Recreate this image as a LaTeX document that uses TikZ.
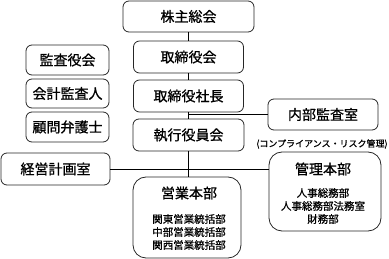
\documentclass[tikz,border=0pt]{standalone}
\usepackage{fontspec}
\setmainfont{Noto Sans CJK JP}[BoldFont={Noto Sans CJK JP}, BoldFeatures={FakeBold=0.9}]
\begin{document}
\begin{tikzpicture}[x=1pt,y=-1pt,
  box/.style={draw=black!85, line width=0.8pt, rounded corners=6pt, rectangle, inner sep=0pt, font=\fontsize{14}{16}\selectfont\bfseries},
  bigbox/.style={draw=black!85, line width=0.8pt, rounded corners=13pt, rectangle, inner sep=0pt},
  title/.style={inner sep=0pt, font=\fontsize{14}{16}\selectfont\bfseries},
  sub/.style={inner sep=0pt, font=\fontsize{10.5}{12}\selectfont\bfseries},
  note/.style={inner sep=0pt, font=\fontsize{9}{11}\selectfont\bfseries},
  conn/.style={draw=black, line width=0.8pt}]
\useasboundingbox (0,0) rectangle (389,259);
\node[box, minimum width=131pt, minimum height=31pt] (kabu) at (188.5,16.5) {株主総会};
\node[box, minimum width=110pt, minimum height=32pt] (tori) at (188.5,57) {取締役会};
\node[box, minimum width=110pt, minimum height=32pt] (shacho) at (188.5,96) {取締役社長};
\node[box, minimum width=111pt, minimum height=32pt] (shikko) at (188.5,135) {執行役員会};
\node[box, minimum width=83pt, minimum height=30pt] (kansa) at (67.5,60) {監査役会};
\node[box, minimum width=83pt, minimum height=29pt] (kaikei) at (67.5,93.5) {会計監査人};
\node[box, minimum width=83pt, minimum height=30pt] (komon) at (67.5,127) {顧問弁護士};
\node[box, minimum width=110pt, minimum height=31pt] (naibu) at (323,114.5) {内部監査室};
\node[note] (comp) at (322,144) {(コンプライアンス・リスク管理)};
\node[box, minimum width=109pt, minimum height=32pt] (keiei) at (55.5,169) {経営計画室};
\node[bigbox, minimum width=108pt, minimum height=81pt] (eigyo) at (187,217.5) {};
\node[title] (eigyoT) at (189,193) {営業本部};
\node[sub] (eigyo1) at (189,219) {関東営業統括部};
\node[sub] (eigyo2) at (189,232) {中部営業統括部};
\node[sub] (eigyo3) at (189,245) {関西営業統括部};
\node[bigbox, minimum width=112pt, minimum height=79pt] (kanri) at (325,191.5) {};
\node[title] (kanriT) at (323,169) {管理本部};
\node[sub] (kanri1) at (323,193) {人事総務部};
\node[sub] (kanri2) at (323,206) {人事総務部法務室};
\node[sub] (kanri3) at (323,219) {財務部};
\draw[conn] (kabu.south) -- (tori.north);
\draw[conn] (tori.south) -- (shacho.north);
\draw[conn] (shacho.south) -- (shikko.north);
\draw[conn] (naibu.west) -- (naibu.west -| shacho.south);
\draw[conn] (shikko.south) -- (shikko.south |- eigyo.north);
\draw[conn] (keiei.east) -- (keiei.east -| kanri.west);
\end{tikzpicture}
\end{document}
